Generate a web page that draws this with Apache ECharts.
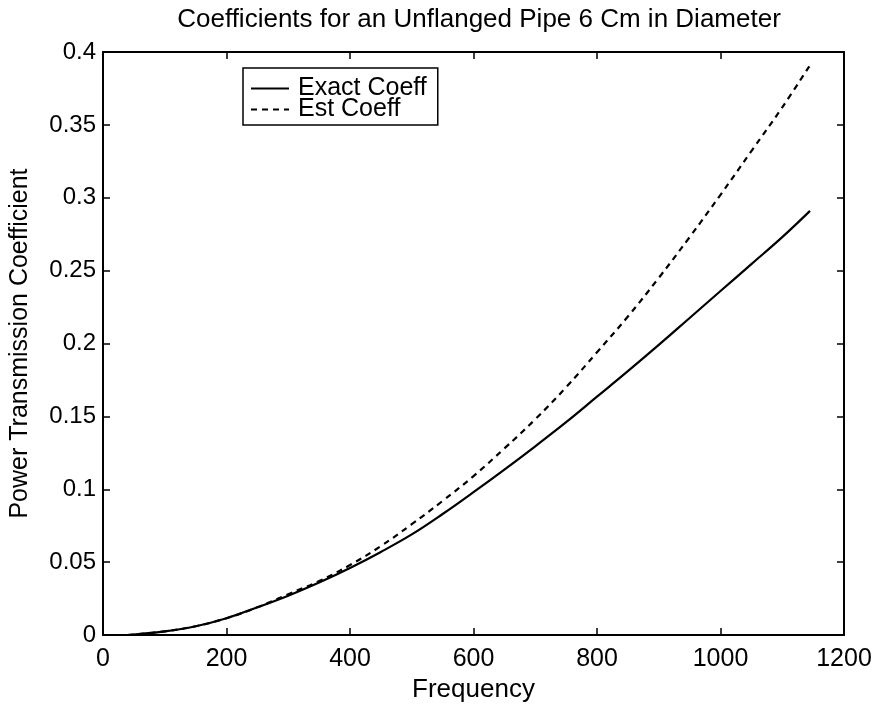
<!DOCTYPE html>
<html>
<head>
<meta charset="utf-8">
<script src="https://cdn.jsdelivr.net/npm/echarts@6/dist/echarts.min.js"></script>
<style>html,body{margin:0;padding:0;background:#fff;}#c{width:875px;height:704px;}</style>
</head>
<body>
<div id="c"></div>
<script>
const titleText = 'Coefficients for an Unflanged Pipe 6 Cm in Diameter';
const xName = 'Frequency';
const yName = 'Power Transmission Coefficient';
const seriesNames = ['Exact Coeff', 'Est Coeff'];
const freq = [40, 100, 150, 200, 250, 300, 350, 400, 450, 500, 550, 600, 650, 700, 750, 800, 850, 900, 950, 1000, 1050, 1100, 1145];
const exactCoeff = [0, 0.0025, 0.006, 0.0115, 0.019, 0.027, 0.036, 0.046, 0.057, 0.069, 0.083, 0.098, 0.1135, 0.1295, 0.146, 0.1635, 0.181, 0.199, 0.2175, 0.236, 0.2545, 0.273, 0.291];
const estCoeff = [0, 0.0025, 0.006, 0.0115, 0.019, 0.028, 0.037, 0.048, 0.061, 0.076, 0.092, 0.109, 0.128, 0.148, 0.170, 0.194, 0.2185, 0.245, 0.273, 0.302, 0.332, 0.362, 0.391];
const xTicks = [0, 200, 400, 600, 800, 1000, 1200];
const yTicks = [0, 0.05, 0.1, 0.15, 0.2, 0.25, 0.3, 0.35, 0.4];

const FONT = '"Liberation Sans", Arial, sans-serif';
const chart = echarts.init(document.getElementById('c'), null, {renderer: 'canvas'});
const zip = (xs, ys) => xs.map((x, i) => [x, ys[i]]);
const axisCommon = {
  axisLine: {show: true, onZero: false, lineStyle: {color: '#000', width: 2}},
  axisTick: {show: true, inside: true, length: 7, lineStyle: {color: '#000', width: 1.5}},
  splitLine: {show: false}
};
chart.setOption({
  animation: false,
  backgroundColor: '#fff',
  title: {
    text: titleText, left: 474, top: 2, textAlign: 'center',
    textStyle: {fontFamily: FONT, fontSize: 26, fontWeight: 'normal', color: '#000'}
  },
  legend: {
    orient: 'vertical', left: 243, top: 68,
    backgroundColor: '#fff', borderColor: '#000', borderWidth: 1.5,
    padding: [8, 11, 3, 7], itemGap: -4, itemWidth: 38, itemHeight: 14,
    itemStyle: {opacity: 0},
    textStyle: {fontFamily: FONT, fontSize: 25, color: '#000', padding: [0, 0, 0, 4]},
    data: seriesNames
  },
  grid: {left: 103, right: 31, top: 52, bottom: 69, containLabel: false, outerBoundsMode: 'none'},
  xAxis: [
    Object.assign({
      type: 'value', min: 0, max: 1200, interval: 200, position: 'bottom',
      name: xName, nameLocation: 'middle', nameGap: 40,
      nameTextStyle: {fontFamily: FONT, fontSize: 26, color: '#000'},
      axisLabel: {fontFamily: FONT, fontSize: 25, color: '#000', margin: 12,
        formatter: v => xTicks.includes(v) ? String(v) : ''}
    }, axisCommon),
    Object.assign({
      type: 'value', min: 0, max: 1200, interval: 200, position: 'top',
      axisLabel: {show: false}
    }, axisCommon)
  ],
  yAxis: [
    Object.assign({
      type: 'value', min: 0, max: 0.4, interval: 0.05, position: 'left',
      name: yName, nameLocation: 'middle', nameGap: 70, nameRotate: 90,
      nameTextStyle: {fontFamily: FONT, fontSize: 25, color: '#000'},
      axisLabel: {fontFamily: FONT, fontSize: 24, color: '#000', margin: 7,
        formatter: v => { const t = yTicks.find(k => Math.abs(k - v) < 1e-9); return t === undefined ? '' : String(t); }}
    }, axisCommon),
    Object.assign({
      type: 'value', min: 0, max: 0.4, interval: 0.05, position: 'right',
      axisLabel: {show: false}
    }, axisCommon)
  ],
  series: [
    {
      name: seriesNames[0], type: 'line', showSymbol: false, symbol: 'none', smooth: 0.4,
      data: zip(freq, exactCoeff), color: '#000',
      lineStyle: {color: '#000', width: 2.2, type: 'solid'}
    },
    {
      name: seriesNames[1], type: 'line', showSymbol: false, symbol: 'none', smooth: 0.4,
      data: zip(freq, estCoeff), color: '#000',
      lineStyle: {color: '#000', width: 2.2, type: [6, 5]}
    }
  ]
});
</script>
</body>
</html>
